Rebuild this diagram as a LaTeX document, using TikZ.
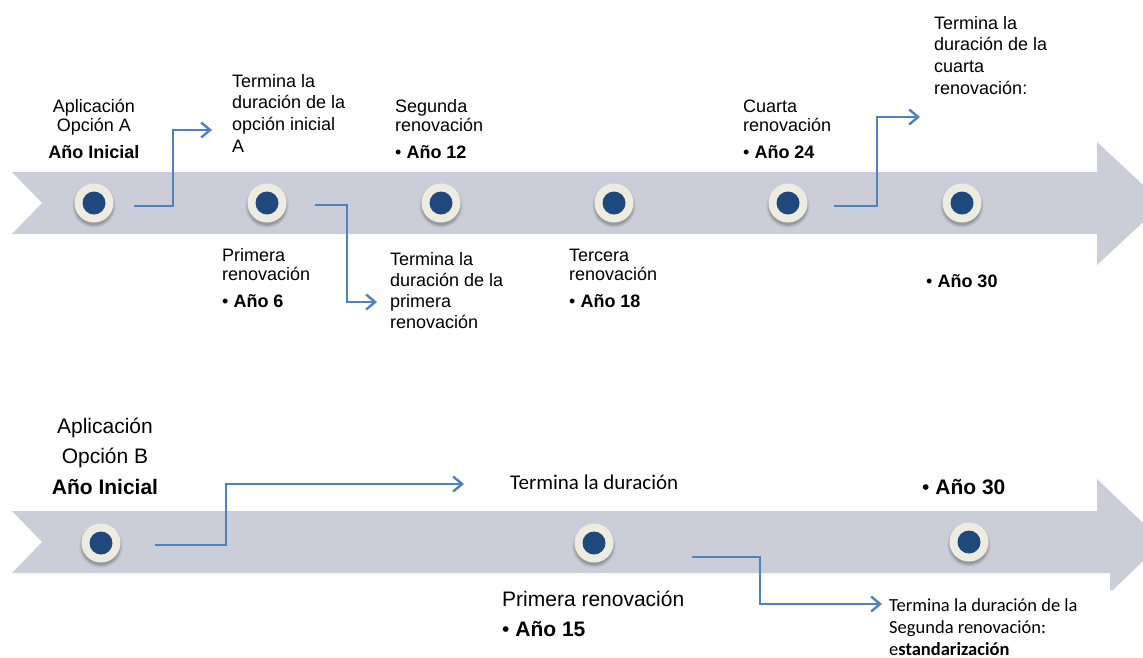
\documentclass[tikz,border=0pt]{standalone}
\usepackage{fontspec}
\setmainfont{Liberation Sans}
\newfontfamily\carlito{Carlito}
\usetikzlibrary{arrows.meta}

\definecolor{band}{RGB}{203,206,216}
\definecolor{cream}{RGB}{238,236,225}
\definecolor{navy}{RGB}{31,73,125}
\definecolor{linkblue}{RGB}{79,129,189}

% multi-line blocks whose baseline is the first line
\newcommand\blkL[1]{\begin{tabular}[t]{@{}l@{}}#1\end{tabular}}
\newcommand\blkC[1]{\begin{tabular}[t]{@{}c@{}}#1\end{tabular}}

\begin{document}
\begin{tikzpicture}[x=1pt,y=-1pt,
  knob/.style={circle, minimum size=39pt, inner sep=0pt, fill=cream,
    path picture={\fill[navy] (path picture bounding box.center) circle (11.5pt);}},
  link/.style={draw=linkblue, line width=2.4pt,
    -{Straight Barb[length=9pt,width=15pt]}},
  lbl/.style={inner sep=0pt, anchor=base west},
  headA/.style={lbl, font=\fontsize{18}{19}\selectfont},
  noteA/.style={lbl, font=\fontsize{18}{21.7}\selectfont},
  headB/.style={lbl, font=\fontsize{21}{30.5}\selectfont},
  noteB/.style={lbl, font=\carlito\fontsize{21}{25}\selectfont},
  noteC/.style={lbl, font=\carlito\fontsize{18.5}{22}\selectfont}]

\path[use as bounding box] (0,0) rectangle (1143,657);
\clip (0,0) rectangle (1143,657);

% timeline bands
\fill[band] (12,172) -- (1097,172) -- (1097,142) -- (1163,203.5) -- (1097,265)
  -- (1097,234) -- (12,234) -- (42,203) -- cycle;
\fill[band] (12,511) -- (1097,511) -- (1097,479) -- (1163,542) -- (1113,590)
  -- (1110,590) -- (1110,573) -- (12,573) -- (42,542) -- cycle;

% soft shadows under the markers
\foreach \px/\py in {94/203,267/203,441/203,614/203,788/203,962/203,101/543,594/543,969/542}{
  \foreach \r/\o in {22/0.04,21/0.06,20/0.08,19/0.1}
    \fill[black, opacity=\o] (\px,\py+3) circle (\r pt);
}

% markers
\node[knob] (k1) at (94,203) {};
\node[knob] (k2) at (267,203) {};
\node[knob] (k3) at (441,203) {};
\node[knob] (k4) at (614,203) {};
\node[knob] (k5) at (788,203) {};
\node[knob] (k6) at (962,203) {};
\node[knob] (m1) at (101,543) {};
\node[knob] (m2) at (594,543) {};
\node[knob] (m3) at (969,542) {};

% labels, option A
\node[headA, anchor=base] (ta0) at (94,112) {\blkC{Aplicación\\Opción A\\[8pt]\textbf{Año Inicial}}};
\node[noteA] (ta1) at (232,87) {\blkL{Termina la\\duración de la\\opción inicial\\A}};
\node[headA] (ta2) at (222,261) {\blkL{Primera\\renovación\\[8pt]• \textbf{Año 6}}};
\node[headA] (ta3) at (395,112) {\blkL{Segunda\\renovación\\[8pt]• \textbf{Año 12}}};
\node[noteA, font=\fontsize{18}{21}\selectfont] (ta4) at (390,265) {\blkL{Termina la\\duración de la\\primera\\renovación}};
\node[headA] (ta5) at (569,261) {\blkL{Tercera\\renovación\\[8pt]• \textbf{Año 18}}};
\node[headA] (ta6) at (743,112) {\blkL{Cuarta\\renovación\\[8pt]• \textbf{Año 24}}};
\node[noteA] (ta7) at (934,29) {\blkL{Termina la\\duración de la\\cuarta\\renovación:}};
\node[headA] (ta8) at (926,287) {• \textbf{Año 30}};

% labels, option B
\node[headB, anchor=base] (tb0) at (105,433) {\blkC{Aplicación\\Opción B\\\textbf{Año Inicial}}};
\node[noteB] (tb1) at (510,489) {Termina la duración};
\node[headB] (tb2) at (922,494) {• \textbf{Año 30}};
\node[headB, font=\fontsize{21}{30}\selectfont] (tb3) at (502,606) {\blkL{Primera renovación\\• \textbf{Año 15}}};
\node[noteC] (tb4) at (889,611) {\blkL{Termina la duración de la\\Segunda renovación:\\e\textbf{standarización}}};

% connectors
\coordinate (c1a) at (134,206); \coordinate (c1b) at (212,130);
\coordinate (c2a) at (315,205); \coordinate (c2b) at (377,302);
\coordinate (c3a) at (834,206); \coordinate (c3b) at (920,117);
\coordinate (d1a) at (155,545); \coordinate (d1b) at (464,484);
\coordinate (d2a) at (692,557); \coordinate (d2b) at (882,604);
\draw[link] (c1a) -- ++(39,0) |- (c1b);
\draw[link] (c2a) -- ++(32,0) |- (c2b);
\draw[link] (c3a) -- ++(43,0) |- (c3b);
\draw[link] (d1a) -- ++(71,0) |- (d1b);
\draw[link] (d2a) -- ++(68,0) |- (d2b);
\end{tikzpicture}
\end{document}
